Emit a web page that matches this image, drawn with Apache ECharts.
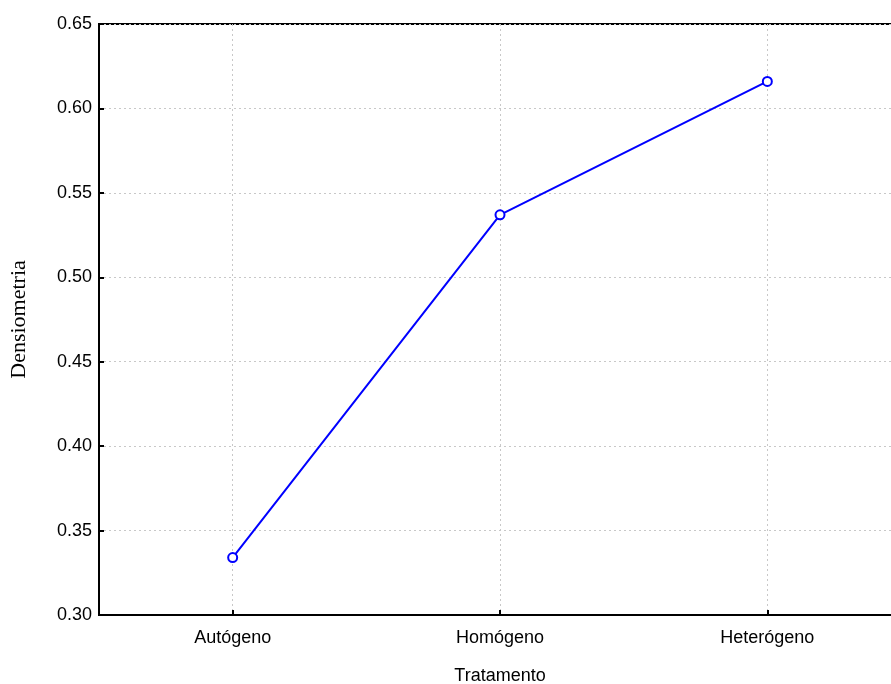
<!DOCTYPE html>
<html>
<head>
<meta charset="utf-8">
<script src="https://cdn.jsdelivr.net/npm/echarts@6/dist/echarts.min.js"></script>
<style>
  html, body { margin: 0; padding: 0; background: #fff; }
  #chart { width: 891px; height: 684px; }
</style>
</head>
<body>
<div id="chart"></div>
<script>
// Tratamento categories and mean densiometria per treatment
const categories = ['Autógeno', 'Homógeno', 'Heterógeno'];
const densiometria = [0.334, 0.537, 0.616];
const yTicks = { min: 0.30, max: 0.65, step: 0.05 };

const sans = '"Liberation Sans", Arial, sans-serif';
const serif = '"Liberation Serif", "Times New Roman", serif';

const chart = echarts.init(document.getElementById('chart'), null, { renderer: 'canvas' });
chart.setOption({
  animation: false,
  backgroundColor: '#ffffff',
  grid: {
    left: 99, top: 24, right: -10, bottom: 69,
    outerBoundsMode: 'none',
    containLabel: false,
    show: true, borderColor: '#000', borderWidth: 2, backgroundColor: 'transparent'
  },
  xAxis: {
    type: 'category',
    data: categories,
    boundaryGap: true,
    name: 'Tratamento',
    nameLocation: 'middle',
    nameGap: 52,
    nameTextStyle: { fontFamily: sans, fontSize: 18, color: '#000' },
    axisLine: { show: true, lineStyle: { color: '#000', width: 2 } },
    axisTick: { show: true, inside: true, length: 5, alignWithLabel: true, lineStyle: { color: '#000', width: 2 } },
    axisLabel: { fontFamily: sans, fontSize: 18, color: '#000', margin: 14 },
    splitLine: { show: true, alignWithLabel: true, lineStyle: { color: '#c8c8c8', type: [2, 3], width: 1 } }
  },
  yAxis: {
    type: 'value',
    min: yTicks.min,
    max: yTicks.max,
    interval: yTicks.step,
    name: 'Densiometria',
    nameLocation: 'middle',
    nameGap: 69,
    nameTextStyle: { fontFamily: serif, fontSize: 22, color: '#000' },
    axisLine: { show: true, lineStyle: { color: '#000', width: 2 } },
    axisTick: { show: true, inside: true, length: 5, lineStyle: { color: '#000', width: 2 } },
    axisLabel: { fontFamily: sans, fontSize: 18, color: '#000', margin: 7,
      formatter: v => v.toFixed(2) },
    splitLine: { show: true, lineStyle: { color: '#c8c8c8', type: [2, 3], width: 1 } }
  },
  series: [{
    type: 'line',
    data: densiometria,
    symbol: 'emptyCircle',
    symbolSize: 9,
    lineStyle: { color: '#0000ff', width: 2 },
    itemStyle: { color: '#0000ff', borderColor: '#0000ff', borderWidth: 2 }
  }]
});
</script>
</body>
</html>
